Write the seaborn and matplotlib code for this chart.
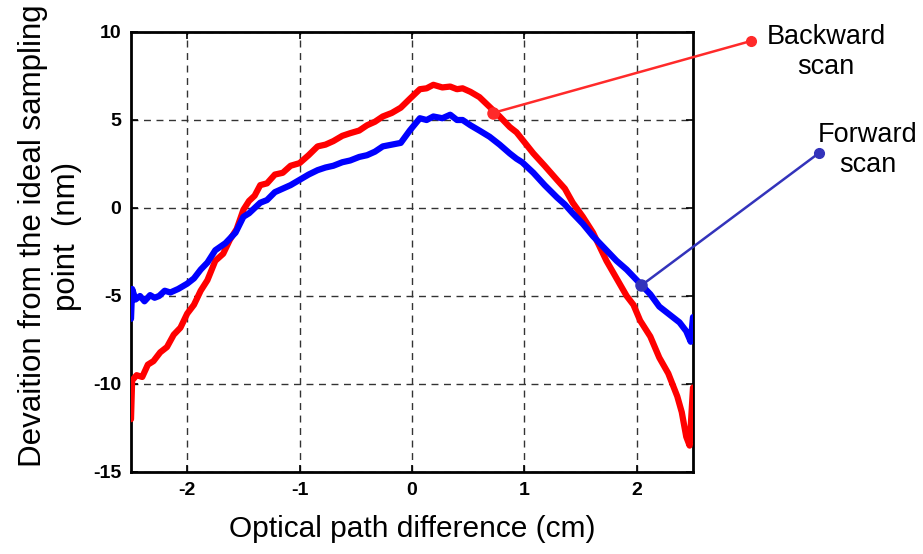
import numpy as np
import pandas as pd
import matplotlib
matplotlib.use("Agg")
import matplotlib.pyplot as plt
from matplotlib.lines import Line2D
import seaborn as sns

# OPD (cm) and deviation (nm)
back_x = [-2.50, -2.49, -2.45, -2.40, -2.35, -2.30, -2.24, -2.18, -2.12, -2.06, -2.00, -1.94, -1.88,
          -1.82, -1.75, -1.68, -1.62, -1.56, -1.50, -1.45, -1.40, -1.35, -1.29, -1.22, -1.15, -1.08,
          -1.00, -0.92, -0.84, -0.77, -0.70, -0.62, -0.55, -0.47, -0.40, -0.33, -0.26, -0.18, -0.10,
          -0.02, 0.07, 0.13, 0.19, 0.27, 0.34, 0.40, 0.45, 0.52, 0.60, 0.69, 0.78, 0.87, 0.93, 0.98,
          1.08, 1.18, 1.29, 1.36, 1.43, 1.52, 1.61, 1.67, 1.73, 1.82, 1.91, 1.97, 2.03, 2.12, 2.20,
          2.28, 2.36, 2.40, 2.44, 2.47, 2.50]
back_y = [-12.0, -9.8, -9.5, -9.6, -8.9, -8.7, -8.2, -7.9, -7.2, -6.8, -6.0, -5.5, -4.7,
          -4.1, -3.0, -2.6, -1.8, -1.2, -0.1, 0.4, 0.7, 1.3, 1.4, 1.9, 2.0, 2.4,
          2.55, 3.0, 3.5, 3.6, 3.8, 4.1, 4.25, 4.4, 4.7, 4.9, 5.2, 5.4, 5.7,
          6.2, 6.75, 6.8, 7.0, 6.85, 6.9, 6.75, 6.8, 6.6, 6.3, 5.75, 5.2, 4.6, 4.3, 3.9,
          3.1, 2.4, 1.6, 1.1, 0.3, -0.5, -1.4, -2.2, -3.0, -4.0, -5.0, -5.5, -6.4, -7.3, -8.5,
          -9.4, -10.7, -11.6, -13.0, -13.5, -10.2]

fwd_x = [-2.50, -2.49, -2.46, -2.42, -2.38, -2.33, -2.29, -2.25, -2.20, -2.15, -2.08, -2.00, -1.94,
         -1.88, -1.82, -1.75, -1.66, -1.57, -1.50, -1.45, -1.40, -1.35, -1.29, -1.22, -1.15, -1.08,
         -1.00, -0.92, -0.84, -0.77, -0.70, -0.62, -0.55, -0.47, -0.40, -0.33, -0.26, -0.18, -0.10,
         -0.02, 0.07, 0.13, 0.19, 0.27, 0.34, 0.40, 0.45, 0.52, 0.60, 0.69, 0.78, 0.87, 0.93, 0.98,
         1.08, 1.18, 1.29, 1.36, 1.43, 1.52, 1.61, 1.67, 1.73, 1.82, 1.91, 1.97, 2.03, 2.12, 2.20,
         2.30, 2.38, 2.44, 2.48, 2.50]
fwd_y = [-6.3, -4.6, -5.2, -5.0, -5.3, -4.95, -5.1, -5.0, -4.7, -4.8, -4.6, -4.3, -4.0,
         -3.5, -3.1, -2.4, -2.0, -1.4, -0.5, -0.3, 0.0, 0.3, 0.45, 0.9, 1.1, 1.3,
         1.6, 1.9, 2.15, 2.3, 2.4, 2.6, 2.7, 2.9, 3.0, 3.2, 3.5, 3.6, 3.7,
         4.4, 5.1, 5.0, 5.2, 5.1, 5.3, 5.0, 5.0, 4.7, 4.4, 4.05, 3.6, 3.1, 2.8, 2.6,
         2.0, 1.3, 0.6, 0.2, -0.3, -0.9, -1.6, -2.0, -2.4, -3.0, -3.5, -3.9, -4.3, -4.9, -5.6,
         -6.1, -6.5, -7.0, -7.6, -6.2]

x_ticks = [-2, -1, 0, 1, 2]
y_ticks = [-15, -10, -5, 0, 5, 10]

df = pd.concat([
    pd.DataFrame({"OPD": back_x, "Dev": back_y, "Scan": "Backward scan"}),
    pd.DataFrame({"OPD": fwd_x, "Dev": fwd_y, "Scan": "Forward scan"}),
], ignore_index=True)

sns.set_style("ticks")
plt.rcParams["font.family"] = ["Liberation Sans", "DejaVu Sans"]
plt.rcParams["text.color"] = "black"
plt.rcParams["axes.labelcolor"] = "black"
plt.rcParams["xtick.color"] = "black"
plt.rcParams["ytick.color"] = "black"

fig = plt.figure(figsize=(9.23, 5.54), dpi=100)
ax = fig.add_axes([131/923, 82/554, 562/923, 440/554])

sns.lineplot(data=df, x="OPD", y="Dev", hue="Scan", sort=False, estimator=None,
             palette={"Backward scan": "#ff0000", "Forward scan": "#0000ff"},
             linewidth=4.5, legend=False, ax=ax, zorder=3)

ax.set_xlim(-2.5, 2.5)
ax.set_ylim(-15, 10)
ax.set_xticks(x_ticks)
ax.set_yticks(y_ticks)
ax.set_xticklabels([str(t) for t in x_ticks], fontsize=14, fontweight="bold")
ax.set_yticklabels([str(t) for t in y_ticks], fontsize=14, fontweight="bold")
ax.tick_params(direction="in", length=5, width=1.2, top=True, right=True, pad=7)
ax.grid(True, linestyle=(0, (5, 4)), color="#333333", linewidth=1)
for s in ax.spines.values():
    s.set_linewidth(2)
    s.set_color("black")

ax.set_xlabel("Optical path difference (cm)", fontsize=21.5, labelpad=12)
ax.set_ylabel("Devaition from the ideal sampling\npoint  (nm)", fontsize=22.5,
              linespacing=1.2)
ax.yaxis.set_label_coords(-0.087, 0.536)

# annotations
red_c = "#ff2a2a"
blue_c = "#3333bb"
b_end = (751/923, 1 - 41/554)
f_end = (819/923, 1 - 153/554)

ax.annotate("", xy=(0.72, 5.4), xytext=b_end, textcoords="figure fraction",
            arrowprops=dict(arrowstyle="-", color=red_c, lw=1.8, shrinkA=0, shrinkB=0),
            annotation_clip=False)
ax.plot([0.72], [5.4], "o", color=red_c, ms=8, zorder=5, clip_on=False)
fig.add_artist(Line2D([b_end[0]], [b_end[1]], marker="o", ms=7, color=red_c,
                      transform=fig.transFigure))
fig.text(826/923, 1 - 52/554, "Backward\nscan", ha="center", va="center", fontsize=19.5,
         linespacing=1.2)

ax.annotate("", xy=(2.04, -4.4), xytext=f_end, textcoords="figure fraction",
            arrowprops=dict(arrowstyle="-", color=blue_c, lw=1.8, shrinkA=0, shrinkB=0),
            annotation_clip=False)
ax.plot([2.04], [-4.4], "o", color=blue_c, ms=8, zorder=5, clip_on=False)
fig.add_artist(Line2D([f_end[0]], [f_end[1]], marker="o", ms=7, color=blue_c,
                      transform=fig.transFigure))
fig.text(868/923, 1 - 150/554, "Forward\nscan", ha="center", va="center", fontsize=19.5,
         linespacing=1.2)

fig.savefig("out.png", dpi=100)
